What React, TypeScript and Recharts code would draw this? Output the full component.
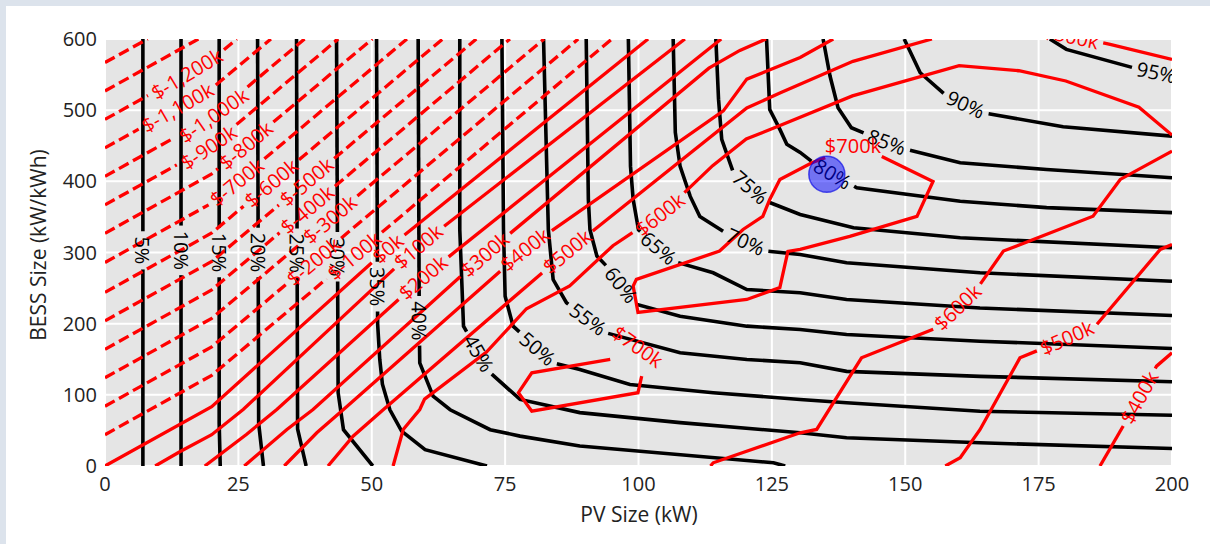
import { ComposedChart, Line, Scatter, XAxis, YAxis, CartesianGrid } from 'recharts';

type Pt = [number, number];

const xTicks = [0, 25, 50, 75, 100, 125, 150, 175, 200];
const yTicks = [0, 100, 200, 300, 400, 500, 600];

// self-sufficiency contours (black), [PV kW, BESS kWh]
const ss05: Pt[] = [[7.1, 600], [7.1, 0]];
const ss10: Pt[] = [[14.25, 600], [14.25, 0]];
const ss15: Pt[] = [[21.4, 600], [21.4, 60], [21.6, 0]];
const ss20: Pt[] = [[28.6, 600], [28.8, 60], [29.7, 0]];
const ss25: Pt[] = [[35.9, 600], [36.1, 52], [37.7, 0]];
const ss30: Pt[] = [[43.4, 600], [43.7, 103], [44.7, 51], [50.2, 0]];
const ss35: Pt[] = [[50.9, 600], [51.1, 200], [51.5, 150], [52, 115], [53.4, 79], [55.6, 49], [60, 23], [71.6, 0]];
const ss40: Pt[] = [[58.7, 600], [58.9, 200], [59, 145], [61.5, 98], [64.7, 79], [72.2, 51], [77.8, 42], [89, 28], [125.3, 4.5], [127.5, 0]];
const ss45: Pt[] = [[66.5, 600], [66.5, 332], [67.2, 196.5], [72.2, 131], [77.8, 93.5], [89, 75], [107.8, 61], [130.3, 46.7], [139, 39.6], [164, 32.6], [200, 24.6]];
const ss50: Pt[] = [[74.4, 600], [74.7, 332], [75, 238.6], [76.5, 196.5], [84, 145], [89, 135.6], [98.4, 114.5], [114, 103], [130.3, 93.5], [139, 88.8], [164, 77], [200, 71.4]];
const ss55: Pt[] = [[82.2, 600], [83.1, 332], [84, 262], [86.5, 229.4], [94, 187], [107.8, 159], [120.3, 149.7], [130.3, 145], [139, 133], [164, 126], [200, 118.3]];
const ss60: Pt[] = [[90.2, 600], [90.6, 374.6], [90.9, 332], [92.2, 295], [94, 281], [99.7, 227], [107.8, 210.5], [120.3, 196.5], [130.3, 191.8], [139, 184.8], [164, 175.4], [200, 165]];
const ss65: Pt[] = [[98.1, 600], [98.5, 421], [99, 374.6], [100, 332], [106.5, 287.8], [114, 271.5], [120.3, 248], [130.3, 243.4], [139, 234], [164, 222], [200, 211.5]];
const ss70: Pt[] = [[106.5, 600], [106.9, 468.7], [107.8, 421], [109.7, 378.8], [111.5, 350.7], [115.9, 329.6], [124, 302], [130.3, 297.2], [139, 285.6], [164, 271.5], [200, 259.7]];
const ss75: Pt[] = [[114.5, 600], [115, 515.5], [115.6, 459], [117.8, 412], [124, 372], [130.3, 353.5], [140.3, 334.8], [160.3, 320.7], [200, 306.7]];
const ss80: Pt[] = [[124, 600], [124.6, 501], [126.5, 473], [127.8, 452], [130.3, 440.6], [132.8, 426], [140.9, 391], [160.3, 372], [176.5, 363], [200, 356]];
const ss85: Pt[] = [[134.6, 600], [135.9, 548], [137.4, 503.4], [139.9, 475.3], [142.8, 466], [150.3, 444.8], [160.3, 426], [176.5, 416.7], [200, 405]];
const ss90: Pt[] = [[149.8, 600], [152.8, 552.6], [157.8, 519.7], [165.3, 495.4], [179.6, 476.7], [200, 463.5]];
const ss95: Pt[] = [[177.1, 600], [180.2, 585.4], [192.7, 559.7], [200, 549]];

const ssPaths = [ss05, ss10, ss15, ss20, ss25, ss30, ss35, ss40, ss45, ss50, ss55, ss60, ss65, ss70, ss75, ss80, ss85, ss90, ss95];
const ssText = ['5%', '10%', '15%', '20%', '25%', '30%', '35%', '40%', '45%', '50%', '55%', '60%', '65%', '70%', '75%', '80%', '85%', '90%', '95%'];
const ssLabelAt: Pt[] = [
  [7.1, 303], [14.25, 303], [21.4, 300], [28.6, 300], [35.9, 299], [43.4, 294], [50.9, 252], [59, 204], [69.7, 157],
  [80.5, 160], [90.5, 206], [96.5, 253], [103.5, 304], [120, 314], [120.3, 386], [136.2, 408], [146.5, 455], [161.2, 506], [197.1, 555],
];

// NPV contours (red), negative values dashed
const npvM1400: Pt[] = [[0, 567], [8, 600]];
const npvM1300: Pt[] = [[0, 527], [17.5, 600]];
const npvM1200: Pt[] = [[0, 487], [20, 570.4], [24.7, 600]];
const npvM1100: Pt[] = [[0, 447], [20, 530.4], [31.1, 600]];
const npvM1000: Pt[] = [[0, 407], [20, 490.4], [37.4, 600]];
const npvM900: Pt[] = [[0, 367], [20, 450.4], [43.7, 600]];
const npvM800: Pt[] = [[0, 327], [20, 410.4], [50.1, 600]];
const npvM700: Pt[] = [[0, 286], [20, 369.4], [56.6, 600]];
const npvM600: Pt[] = [[0, 244], [20, 327.4], [63.3, 600]];
const npvM500: Pt[] = [[0, 204], [20, 287.4], [69.6, 600]];
const npvM400: Pt[] = [[0, 164], [20, 247.4], [75.9, 600]];
const npvM300: Pt[] = [[0, 124], [20, 207.4], [82.3, 600]];
const npvM200: Pt[] = [[0, 84], [20, 167.4], [88.7, 600]];
const npvM100: Pt[] = [[0, 44], [20, 127.4], [95, 600]];
const npv0: Pt[] = [[0, 0], [20, 83.4], [53, 305.7], [101.8, 600]];
const npv100: Pt[] = [[9.4, 0], [14.1, 20.4], [20, 44], [25.9, 79.4], [58.7, 308.5], [108.7, 600]];
const npv200: Pt[] = [[18.7, 0], [26.5, 44.3], [32.2, 79.4], [59.6, 265], [115.5, 600]];
const npv300: Pt[] = [[26.1, 0], [34.1, 51.3], [39, 79.4], [71.2, 297.3], [113.2, 559], [119, 584], [123.9, 600]];
const npv400: Pt[] = [[33.6, 0], [39.7, 46.7], [44.7, 79.4], [78.7, 304.3], [115.9, 499], [120.3, 543.6], [130.3, 574], [136.5, 600]];
const npv500: Pt[] = [[41.8, 0], [46.5, 41.9], [52.2, 79.4], [86.6, 301.5], [120.3, 503], [126.5, 524], [140.2, 568.6], [155, 600]];
const npv600: Pt[] = [[54, 0], [55.9, 51.3], [59, 79.4], [59.9, 94], [71.5, 160], [79, 221], [87.1, 253], [95.2, 309.5], [104, 353.5], [108.3, 382], [113.9, 422], [120.2, 459.5], [126.4, 478], [140.1, 520], [160.1, 562.5], [171.3, 555.4], [180.1, 541], [193.8, 504], [200, 465]];
const npv600b: Pt[] = [[113.5, 0], [114, 4.5], [130.3, 46.7], [133.4, 51.3], [141.8, 152], [155.9, 194.2], [164, 255], [168.4, 302], [185.2, 351], [190.3, 402.7], [200, 442.5]];
const npv500b: Pt[] = [[157.5, 0], [160.3, 11.5], [164, 51], [171.5, 152], [175.3, 163.7], [185.9, 198.9], [197.8, 304.3], [200, 311.3]];
const npv400b: Pt[] = [[186.5, 0], [191.2, 60.7], [197.1, 140.3], [200, 159]];
const npv500c: Pt[] = [[176, 612], [188.4, 592.4], [200, 571.3]];

const npvPaths = [npvM1400, npvM1300, npvM1200, npvM1100, npvM1000, npvM900, npvM800, npvM700, npvM600, npvM500, npvM400, npvM300, npvM200, npvM100,
  npv0, npv100, npv200, npv300, npv400, npv500, npv600, npv600b, npv500b, npv400b, npv500c];
const npvText = ['', '', '$-1,200k', '$-1,100k', '$-1,000k', '$-900k', '$-800k', '$-700k', '$-600k', '$-500k', '$-400k', '$-300k', '$-200k', '$-100k',
  '$0k', '$100k', '$200k', '$300k', '$400k', '$500k', '$600k', '$600k', '$500k', '$400k', '$500k'];
const npvDashed = [true, true, true, true, true, true, true, true, true, true, true, true, true, true,
  false, false, false, false, false, false, false, false, false, false, false];
const npvLabelAt: Pt[] = [
  [0, 0], [0, 0], [15.4, 550], [13.5, 505], [20.6, 490], [19.3, 449], [26.2, 452], [24, 405], [30.9, 400], [37.7, 400], [38.4, 356], [42.2, 346], [39.9, 280], [46.9, 294],
  [53, 305.7], [58.7, 308.5], [59.6, 265], [71.2, 297.3], [78.7, 304.3], [86.6, 301.5], [104, 353.5], [159.9, 222], [180.3, 180.6], [193.6, 97.7], [181.1, 605],
];

// $700k islands, drawn open with the label in the gap
const npv700a: Pt[] = [[94.7, 149.7], [80, 131], [77.5, 103], [80, 77], [99.9, 103], [100.6, 126.4]];
const npv700b: Pt[] = [[145.6, 435], [155.2, 399.9], [152.2, 350.7], [139.6, 322.6], [130.3, 304.3], [128, 301.5], [126.5, 250.9], [120.3, 234], [99.9, 215.7], [99, 252.7], [99.6, 262.2], [115.2, 302], [119.6, 332.4], [123.3, 350.7], [124.6, 374.6], [126.5, 402.7], [132.5, 426.1], [135, 433.2]];
const islandLabels = [
  { x: 99.9, y: 168, text: '$700k', angle: 35 },
  { x: 140.2, y: 450.5, text: '$700k', angle: 0 },
];

const chosen = [{ x: 135.3, y: 410 }];

const FS = 20;
const FONT = '"Open Sans", sans-serif';
// pixels per data unit in the plot box
const PXX = 1067 / 200;
const PXY = 427 / 600;

function textWidth(s: string) {
  let w = 0;
  for (const c of s) w += c === '%' ? 0.84 : c === '-' ? 0.33 : c === ',' ? 0.26 : c === 'k' ? 0.51 : 0.57;
  return w * FS;
}

// open a gap in the path where the inline label sits (like clabel inline)
function cutAtLabel(pts: Pt[], at: Pt, gap: number) {
  const q = pts.map(([x, y]) => [x * PXX, -y * PXY]);
  const cum = [0];
  for (let i = 1; i < q.length; i++) cum.push(cum[i - 1] + Math.hypot(q[i][0] - q[i - 1][0], q[i][1] - q[i - 1][1]));
  const total = cum[cum.length - 1];
  const ax = at[0] * PXX, ay = -at[1] * PXY;
  let best = Infinity, s0 = 0;
  for (let i = 1; i < q.length; i++) {
    const dx = q[i][0] - q[i - 1][0], dy = q[i][1] - q[i - 1][1];
    const len2 = dx * dx + dy * dy;
    let t = len2 > 0 ? ((ax - q[i - 1][0]) * dx + (ay - q[i - 1][1]) * dy) / len2 : 0;
    t = Math.max(0, Math.min(1, t));
    const d = Math.hypot(q[i - 1][0] + t * dx - ax, q[i - 1][1] + t * dy - ay);
    if (d < best) { best = d; s0 = cum[i - 1] + t * Math.sqrt(len2); }
  }
  const along = (s: number): Pt => {
    s = Math.max(0, Math.min(total, s));
    for (let i = 1; i < pts.length; i++) {
      if (s <= cum[i] || i === pts.length - 1) {
        const seg = cum[i] - cum[i - 1];
        const t = seg > 0 ? (s - cum[i - 1]) / seg : 0;
        return [pts[i - 1][0] + t * (pts[i][0] - pts[i - 1][0]), pts[i - 1][1] + t * (pts[i][1] - pts[i - 1][1])];
      }
    }
    return pts[pts.length - 1];
  };
  const s1 = s0 - gap / 2, s2 = s0 + gap / 2;
  const before: Pt[] = [];
  pts.forEach((p, i) => { if (cum[i] < s1) before.push(p); });
  if (before.length) before.push(along(s1));
  const after: Pt[] = [];
  if (s2 < total) after.push(along(s2));
  pts.forEach((p, i) => { if (cum[i] > s2) after.push(p); });
  const a = along(s1), b = along(s2);
  let angle = (Math.atan2(-(b[1] - a[1]) * PXY, (b[0] - a[0]) * PXX) * 180) / Math.PI;
  if (angle > 90) angle -= 180;
  if (angle < -90) angle += 180;
  const c = along(s0);
  return { parts: [before, after].filter((p) => p.length > 1), x: c[0], y: c[1], angle };
}

const toRows = (pts: Pt[]) => pts.map(([x, y]) => ({ x, y }));

const labelShape = (color: string) => (props: any) => {
  const { cx, cy, payload } = props;
  return (
    <text x={cx} y={cy} transform={`rotate(${payload.angle} ${cx} ${cy})`} textAnchor="middle" dominantBaseline="central"
      fontSize={FS} fontFamily={FONT} fill={color}>{payload.text}</text>
  );
};

export default function App() {
  const black = ssPaths.map((p, i) => ({ ...cutAtLabel(p, ssLabelAt[i], textWidth(ssText[i]) + 10), text: ssText[i] }));
  const red = npvPaths.map((p, i) =>
    npvText[i]
      ? { ...cutAtLabel(p, npvLabelAt[i], textWidth(npvText[i]) + 10), text: npvText[i], dashed: npvDashed[i] }
      : { parts: [p], x: 0, y: 0, angle: 0, text: '', dashed: npvDashed[i] });
  red.push({ parts: [npv700a], x: 0, y: 0, angle: 0, text: '', dashed: false });
  red.push({ parts: [npv700b], x: 0, y: 0, angle: 0, text: '', dashed: false });

  const blackLabels = black.map((c) => ({ x: c.x, y: c.y, text: c.text, angle: c.angle }));
  const redLabels = red.filter((c) => c.text).map((c) => ({ x: c.x, y: c.y, text: c.text, angle: c.angle })).concat(islandLabels);

  return (
    <div style={{ position: 'absolute', left: 0, top: 0, width: 1210, height: 544, background: '#dce3ec', fontFamily: FONT }}>
      <div style={{ position: 'absolute', left: 6, top: 6, right: 0, bottom: 0, background: '#ffffff' }} />
      <div style={{ position: 'absolute', left: 0, top: 0 }}>
        <ComposedChart width={1210} height={544} margin={{ top: 39, right: 38, left: 45, bottom: 38 }}>
          <CartesianGrid fill="#e5e5e5" stroke="#ffffff" strokeWidth={2} />
          <XAxis dataKey="x" type="number" domain={[0, 200]} ticks={xTicks} allowDataOverflow height={40}
            tickLine={false} axisLine={false} tickMargin={5} tick={{ fontSize: 20, fill: '#222', fontFamily: FONT }} />
          <YAxis dataKey="y" type="number" domain={[0, 600]} ticks={yTicks} allowDataOverflow width={60}
            tickLine={false} axisLine={false} tick={{ fontSize: 20, fill: '#222', fontFamily: FONT }} />
          {black.flatMap((c, i) => c.parts.map((seg, j) => (
            <Line key={`b${i}-${j}`} data={toRows(seg)} dataKey="y" type="linear" stroke="#000000" strokeWidth={3.6}
              dot={false} activeDot={false} isAnimationActive={false} />
          )))}
          {red.flatMap((c, i) => c.parts.map((seg, j) => (
            <Line key={`r${i}-${j}`} data={toRows(seg)} dataKey="y" type="linear" stroke="#ff0000" strokeWidth={3.3}
              strokeDasharray={c.dashed ? '11 5' : undefined} dot={false} activeDot={false} isAnimationActive={false} />
          )))}
          <Scatter data={blackLabels} dataKey="y" shape={labelShape('#000000')} isAnimationActive={false} />
          <Scatter data={redLabels} dataKey="y" shape={labelShape('#ff0000')} isAnimationActive={false} />
          <Scatter data={chosen} dataKey="y" isAnimationActive={false}
            shape={(p: any) => <circle cx={p.cx} cy={p.cy} r={18} fill="rgba(0,0,255,0.5)" stroke="rgba(0,0,230,0.65)" strokeWidth={1.5} />} />
        </ComposedChart>
      </div>
      <div style={{ position: 'absolute', left: 639, top: 514, transform: 'translate(-50%, -50%)', fontSize: 21, color: '#222', whiteSpace: 'nowrap' }}>
        PV Size (kW)
      </div>
      <div style={{ position: 'absolute', left: 38, top: 245, transform: 'translate(-50%, -50%) rotate(-90deg)', fontSize: 21, color: '#222', whiteSpace: 'nowrap' }}>
        BESS Size (kW/kWh)
      </div>
    </div>
  );
}
